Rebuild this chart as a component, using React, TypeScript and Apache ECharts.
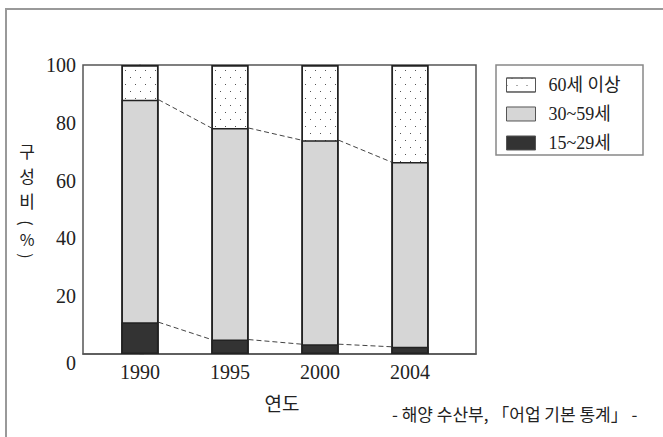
import React, { useEffect, useRef } from "react";
import * as echarts from "echarts";

const years = ["1990", "1995", "2000", "2004"];
const age15to29 = [11, 5, 3.4, 2.5];
const age30to59 = [77, 73.2, 70.6, 63.9];
const age60plus = [12, 21.8, 26, 33.6];
const seriesNames = ["60세 이상", "30~59세", "15~29세"];
const yTicks = [0, 20, 40, 60, 80, 100];

const SERIF = "'Liberation Serif', 'Noto Sans CJK KR', serif";
const SANS = "'Noto Sans CJK KR', sans-serif";
const BAR_W = 37;

export default function App() {
  const ref = useRef<HTMLDivElement>(null);
  useEffect(() => {
    const chart = echarts.init(ref.current!, null, { renderer: "svg" });
    const idx = years.map((_, i) => i);
    const top15 = age15to29.slice();
    const top30 = idx.map((i) => age15to29[i] + age30to59[i]);
    const top60 = idx.map((i) => top30[i] + age60plus[i]);
    const segs = (arr: number[]) =>
      arr.slice(0, -1).map((v, i) => [i, v, arr[i + 1]]);
    const dashed = (name: string, arr: number[]) => ({
      type: "custom",
      name,
      silent: true,
      z: 1,
      clip: false,
      encode: { x: 0, y: 1 },
      data: segs(arr),
      renderItem: (params: any, api: any) => {
        const x = api.value(0);
        const p1 = api.coord([x, api.value(1)]);
        const p2 = api.coord([x + 1, api.value(2)]);
        return {
          type: "line",
          shape: {
            x1: p1[0] + BAR_W / 2,
            y1: p1[1],
            x2: p2[0] - BAR_W / 2,
            y2: p2[1],
          },
          style: { stroke: "#444", lineWidth: 1, lineDash: [5, 3] },
        };
      },
    });
    const barStyle = { borderColor: "#222", borderWidth: 1.5 };
    const vChars = [
      { t: "구", y: 150, s: 17, r: 0 },
      { t: "성", y: 175, s: 17, r: 0 },
      { t: "비", y: 200, s: 17, r: 0 },
      { t: "(", y: 223, s: 16, r: -Math.PI / 2 },
      { t: "%", y: 239, s: 16, r: 0 },
      { t: ")", y: 256, s: 16, r: -Math.PI / 2 },
    ];
    chart.setOption({
      animation: false,
      backgroundColor: "#fff",
      grid: {
        left: 83,
        top: 65,
        right: 187,
        bottom: 83,
        show: true,
        borderColor: "#555",
        borderWidth: 1.5,
        backgroundColor: "#fff",
      },
      xAxis: {
        type: "value",
        min: -0.633,
        max: 3.733,
        splitLine: { show: false },
        axisTick: { show: false },
        axisLine: { show: true, lineStyle: { color: "#555", width: 1.5 } },
        axisLabel: {
          customValues: idx,
          formatter: (v: number) => years[Math.round(v)] ?? "",
          margin: 8,
          fontFamily: SERIF,
          fontSize: 20,
          color: "#222",
        },
      },
      yAxis: {
        type: "value",
        min: 0,
        max: 100,
        interval: 20,
        splitLine: { show: false },
        axisTick: { show: true, inside: true, length: 4, lineStyle: { color: "#555" } },
        axisLine: { show: true, lineStyle: { color: "#555", width: 1.5 } },
        axisLabel: {
          margin: 7,
          fontFamily: SERIF,
          fontSize: 20,
          color: "#222",
          formatter: (v: number) => (v === yTicks[0] ? "{z|" + v + "}" : String(v)),
          rich: { z: { padding: [18, 0, 0, 0], fontFamily: SERIF, fontSize: 20, color: "#222" } },
        },
      },
      legend: {
        orient: "vertical",
        left: 496,
        top: 65,
        data: seriesNames,
        icon: "rect",
        itemWidth: 29,
        itemHeight: 14,
        itemGap: 11,
        padding: [11, 10, 10, 10],
        borderWidth: 0,
        itemStyle: { borderColor: "#555", borderWidth: 1 },
        textStyle: {
          fontFamily: SERIF,
          fontSize: 18,
          color: "#222",
          lineHeight: 16,
          padding: [0, 0, 0, 8],
        },
      },
      series: [
        {
          type: "bar",
          name: seriesNames[0],
          barWidth: BAR_W,
          barGap: "-100%",
          z: 3,
          data: idx.map((i) => [i, top60[i]]),
          itemStyle: {
            ...barStyle,
            color: "#fff",
            decal: {
              symbol: "rect",
              symbolSize: 1,
              color: "#555",
              backgroundColor: "rgba(0,0,0,0)",
              dashArrayX: [[1, 9], [0, 5, 1, 4]],
              dashArrayY: [1, 6],
              rotation: 0,
            },
          },
        },
        {
          type: "bar",
          name: seriesNames[1],
          barWidth: BAR_W,
          barGap: "-100%",
          z: 3,
          data: idx.map((i) => [i, top30[i]]),
          itemStyle: { ...barStyle, color: "#d6d6d6" },
        },
        {
          type: "bar",
          name: seriesNames[2],
          barWidth: BAR_W,
          barGap: "-100%",
          z: 3,
          data: idx.map((i) => [i, top15[i]]),
          itemStyle: { ...barStyle, color: "#333" },
        },
        dashed("line30", top30),
        dashed("line15", top15),
      ],
      graphic: [
        {
          type: "rect",
          shape: { x: 6, y: 9, width: 720, height: 500 },
          style: { fill: "none", stroke: "#999", lineWidth: 2 },
          silent: true,
        },
        {
          type: "rect",
          shape: { x: 496, y: 65, width: 147, height: 90 },
          style: { fill: "none", stroke: "#888", lineWidth: 1.5 },
          silent: true,
        },
        ...vChars.map((c) => ({
          type: "text",
          x: 27,
          y: c.y,
          rotation: c.r,
          style: {
            text: c.t,
            font: c.s + "px " + SANS,
            fill: "#222",
            align: "center",
            verticalAlign: "middle",
          },
        })),
        {
          type: "text",
          x: 282,
          y: 402,
          style: {
            text: "연도",
            font: "19px " + SANS,
            fill: "#222",
            align: "center",
            verticalAlign: "middle",
          },
        },
        {
          type: "text",
          x: 392,
          y: 413,
          style: {
            text: "- 해양 수산부, 「어업 기본 통계」 -",
            font: "17px " + SANS,
            fill: "#222",
            align: "left",
            verticalAlign: "middle",
          },
        },
      ],
    });
    return () => chart.dispose();
  }, []);
  return (
    <div
      ref={ref}
      style={{ position: "fixed", left: 0, top: 0, width: 663, height: 437 }}
    />
  );
}
